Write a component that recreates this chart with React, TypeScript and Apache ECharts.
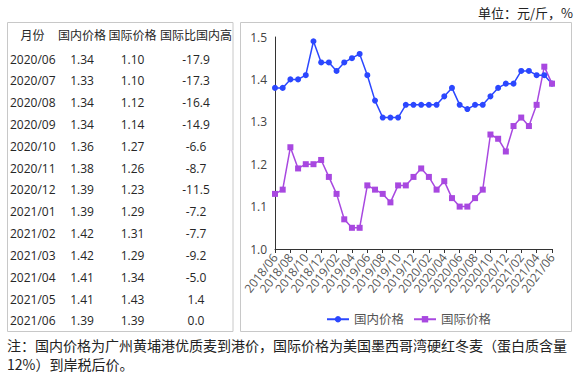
import React, { useEffect, useRef } from "react";
import * as echarts from "echarts";

const months = [
  "2018/06", "2018/07", "2018/08", "2018/09", "2018/10", "2018/11", "2018/12",
  "2019/01", "2019/02", "2019/03", "2019/04", "2019/05", "2019/06", "2019/07",
  "2019/08", "2019/09", "2019/10", "2019/11", "2019/12", "2020/01", "2020/02",
  "2020/03", "2020/04", "2020/05", "2020/06", "2020/07", "2020/08", "2020/09",
  "2020/10", "2020/11", "2020/12", "2021/01", "2021/02", "2021/03", "2021/04",
  "2021/05", "2021/06",
];

const domesticPrice = [
  1.38, 1.38, 1.40, 1.40, 1.41, 1.49, 1.44,
  1.44, 1.42, 1.44, 1.45, 1.46, 1.41, 1.35,
  1.31, 1.31, 1.31, 1.34, 1.34, 1.34, 1.34,
  1.34, 1.36, 1.38, 1.34, 1.33, 1.34, 1.34,
  1.36, 1.38, 1.39, 1.39, 1.42, 1.42, 1.41,
  1.41, 1.39,
];

const intlPrice = [
  1.13, 1.14, 1.24, 1.19, 1.20, 1.20, 1.21,
  1.17, 1.13, 1.07, 1.05, 1.05, 1.15, 1.14,
  1.13, 1.11, 1.15, 1.15, 1.17, 1.19, 1.17,
  1.14, 1.16, 1.12, 1.10, 1.10, 1.12, 1.14,
  1.27, 1.26, 1.23, 1.29, 1.31, 1.29, 1.34,
  1.43, 1.39,
];

const tableHeaders = ["月份", "国内价格", "国际价格", "国际比国内高"];
const tableMonths = ["2020/06", "2020/07", "2020/08", "2020/09", "2020/10", "2020/11", "2020/12", "2021/01", "2021/02", "2021/03", "2021/04", "2021/05", "2021/06"];
const tableDomestic = ["1.34", "1.33", "1.34", "1.34", "1.36", "1.38", "1.39", "1.39", "1.42", "1.42", "1.41", "1.41", "1.39"];
const tableIntl = ["1.10", "1.10", "1.12", "1.14", "1.27", "1.26", "1.23", "1.29", "1.31", "1.29", "1.34", "1.43", "1.39"];
const tableDiff = ["-17.9", "-17.3", "-16.4", "-14.9", "-6.6", "-8.7", "-11.5", "-7.2", "-7.7", "-9.2", "-5.0", "1.4", "0.0"];

const yTicks = { min: 1.0, max: 1.5, interval: 0.1 };

const seriesNames = ["国内价格", "国际价格"];
const unitText = "单位：元/斤，%";
const noteLine1 = "注：国内价格为广州黄埔港优质麦到港价，国际价格为美国墨西哥湾硬红冬麦（蛋白质含量";
const noteLine2 = "12%）到岸税后价。";

const BLUE = "#2b47ff";
const PURPLE = "#a848e0";
const FONT = "'Open Sans', 'Noto Sans CJK SC', sans-serif";
const SERIF = "'Noto Sans CJK SC', serif";

export default function App() {
  const ref = useRef<HTMLDivElement>(null);

  useEffect(() => {
    if (!ref.current) return;
    const chart = echarts.init(ref.current, undefined, { renderer: "svg" });

    const graphics: any[] = [];
    graphics.push({
      type: "rect",
      shape: { x: 7.5, y: 22.5, width: 225.5, height: 309 },
      style: { fill: "none", stroke: "#c8c8c8", lineWidth: 1 },
      silent: true,
    });
    graphics.push({
      type: "rect",
      shape: { x: 240.5, y: 22.5, width: 331, height: 309 },
      style: { fill: "none", stroke: "#c8c8c8", lineWidth: 1 },
      silent: true,
    });

    const colX = [32.5, 82, 132.5, 196];
    const headerY = 35;
    const rowY0 = 59;
    const rowStep = 21.83;
    tableHeaders.forEach((h, i) => {
      graphics.push({
        type: "text",
        x: colX[i],
        y: headerY,
        style: {
          text: h,
          fontSize: 12,
          fontFamily: FONT,
          fill: "#262626",
          align: "center",
          verticalAlign: "middle",
        },
      });
    });
    tableMonths.forEach((m, r) => {
      const y = rowY0 + r * rowStep;
      graphics.push({
        type: "text",
        x: 10,
        y,
        style: { text: m, fontSize: 12, fontFamily: FONT, fill: "#262626", align: "left", verticalAlign: "middle" },
      });
      [tableDomestic[r], tableIntl[r], tableDiff[r]].forEach((v, c) => {
        graphics.push({
          type: "text",
          x: colX[c + 1],
          y,
          style: { text: v, fontSize: 12, fontFamily: FONT, fill: "#262626", align: "center", verticalAlign: "middle" },
        });
      });
    });

    graphics.push({
      type: "text",
      x: 573,
      y: 12,
      style: { text: unitText, fontSize: 13, fontFamily: SERIF, fill: "#222", align: "right", verticalAlign: "middle" },
    });
    graphics.push({
      type: "text",
      x: 7,
      y: 345,
      style: { text: noteLine1, fontSize: 14, fontFamily: SERIF, fill: "#222", align: "left", verticalAlign: "middle" },
    });
    graphics.push({
      type: "text",
      x: 7,
      y: 364,
      style: { text: noteLine2, fontSize: 14, fontFamily: SERIF, fill: "#222", align: "left", verticalAlign: "middle" },
    });

    chart.setOption({
      animation: false,
      backgroundColor: "#ffffff",
      grid: { left: 275, right: 29, top: 37, bottom: 128, containLabel: false },
      legend: {
        data: seriesNames,
        left: 321,
        top: 308,
        itemWidth: 22,
        itemHeight: 8,
        itemGap: 9,
        textStyle: { fontSize: 12.5, color: "#555", fontFamily: FONT },
      },
      xAxis: {
        type: "category",
        data: months,
        boundaryGap: false,
        axisLine: { show: true, lineStyle: { color: "#333", width: 1 } },
        axisTick: { show: true, interval: 1, length: 4, lineStyle: { color: "#333" } },
        axisLabel: {
          interval: 1,
          rotate: 52,
          fontSize: 12,
          color: "#555",
          fontFamily: FONT,
          margin: 6,
        },
        splitLine: { show: false },
      },
      yAxis: {
        type: "value",
        min: yTicks.min,
        max: yTicks.max,
        interval: yTicks.interval,
        axisLine: { show: true, lineStyle: { color: "#333", width: 1 } },
        axisTick: { show: false },
        splitLine: { show: false },
        axisLabel: {
          formatter: (v: number) => v.toFixed(1),
          fontSize: 12,
          color: "#444",
          fontFamily: FONT,
          margin: 8,
        },
      },
      series: [
        {
          name: seriesNames[0],
          type: "line",
          data: domesticPrice,
          symbol: "circle",
          symbolSize: 6,
          showAllSymbol: true,
          itemStyle: { color: BLUE },
          lineStyle: { color: BLUE, width: 1.5 },
        },
        {
          name: seriesNames[1],
          type: "line",
          data: intlPrice,
          symbol: "rect",
          symbolSize: 6,
          showAllSymbol: true,
          itemStyle: { color: PURPLE },
          lineStyle: { color: PURPLE, width: 1.5 },
        },
      ],
      graphic: graphics,
    });

    return () => {
      chart.dispose();
    };
  }, []);

  return (
    <div
      ref={ref}
      style={{ position: "fixed", left: 0, top: 0, width: 581, height: 377 }}
    />
  );
}
